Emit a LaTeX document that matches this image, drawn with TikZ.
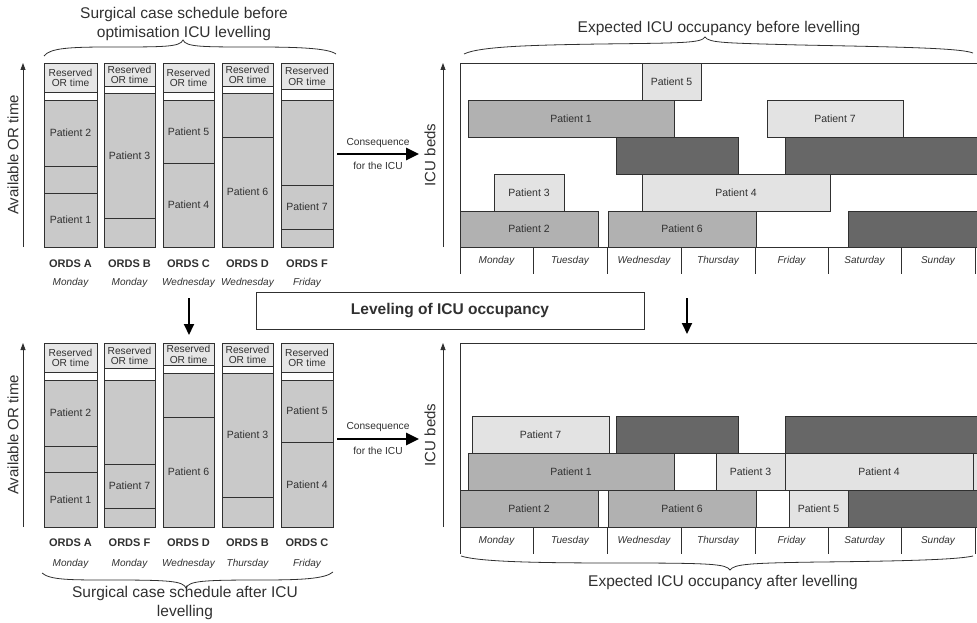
\documentclass[tikz,border=0pt]{standalone}
\usepackage{fontspec}
\setmainfont{Liberation Sans}
\usetikzlibrary{arrows.meta}

\definecolor{ink}{HTML}{303030}
\definecolor{orgray}{HTML}{C9C9C9}
\definecolor{resgray}{HTML}{E6E6E6}
\definecolor{lightbar}{HTML}{E3E3E3}
\definecolor{midbar}{HTML}{B1B1B1}
\definecolor{darkbar}{HTML}{676767}

\tikzset{
  orbox/.style={draw=ink, line width=0.8pt, fill=orgray},
  resbox/.style={draw=ink, line width=0.8pt, fill=resgray},
  gapbox/.style={draw=ink, line width=0.8pt, fill=white},
  lightb/.style={draw=ink, line width=0.8pt, fill=lightbar},
  midb/.style={draw=ink, line width=0.8pt, fill=midbar},
  darkb/.style={draw=ink, line width=0.8pt, fill=darkbar},
  frame/.style={draw=ink, line width=0.8pt},
  patlab/.style={inner sep=0pt, text=ink, font=\fontsize{10.5}{12}\selectfont},
  reslab/.style={inner sep=0pt, align=center, text=ink, font=\fontsize{10.2}{10.6}\selectfont},
  ordslab/.style={inner sep=0pt, text=ink, font=\bfseries\fontsize{11}{13}\selectfont},
  daylab/.style={inner sep=0pt, text=ink, font=\itshape\fontsize{10}{12}\selectfont},
  titlelab/.style={inner sep=0pt, align=center, text=ink, font=\fontsize{15.5}{18.5}\selectfont},
  axislab/.style={inner sep=0pt, rotate=90, text=ink, font=\fontsize{15}{18}\selectfont},
  conslab/.style={inner sep=0pt, text=ink, font=\fontsize{10.2}{12}\selectfont},
  axisarrow/.style={draw=ink, line width=0.8pt, -{Triangle[length=7pt,width=5pt]}},
  bigarrow/.style={draw=black, line width=2.6pt, -{Triangle[length=13pt,width=12pt]}},
  downarrow/.style={draw=black, line width=2pt, -{Triangle[length=11pt,width=10pt]}},
  brace/.style={draw=ink, line width=0.8pt},
}

% one OR day schedule: x-left, x-right, top, reserved bottom, gap bottom, segments
\newcommand\orcol[6]{%
  \draw[resbox] (#1,#3) rectangle (#2,#4);
  \node[reslab] at ({(#1+#2)/2},{(#3+#4)/2+0.5}) {Reserved\\OR time};
  \draw[gapbox] (#1,#4) rectangle (#2,#5);
  \foreach \a/\b/\t in {#6}{%
    \draw[orbox] (#1,\a) rectangle (#2,\b);
    \node[patlab] at ({(#1+#2)/2},{(\a+\b)/2}) {\t};
  }%
}
% one ICU stay: style, x-from, x-to, row top, row bottom, label
\newcommand\icustay[6]{%
  \draw[#1] (#2,#4) rectangle (#3,#5);
  \node[patlab] at ({(#2+#3)/2},{(#4+#5)/2}) {#6};
}
% week axis under an ICU chart at baseline y0
\newcommand\weekaxis[1]{%
  \foreach \xa/\xb/\d in {460/533/Monday,533/607/Tuesday,607/681/Wednesday,
      681/755/Thursday,755/828/Friday,828/901/Saturday,901/975/Sunday}{%
    \draw[frame] (\xa,#1) -- (\xa,#1+27);
    \node[daylab] at ({(\xa+\xb)/2},#1+14) {\d};
  }%
  \draw[frame] (975,#1) -- (975,#1+27);
}

\begin{document}
\begin{tikzpicture}[x=1pt,y=-1pt]
\useasboundingbox (0,0) rectangle (977,623);
\clip (0,0) rectangle (977,623);

% ---------------- upper OR schedule ----------------
\node[titlelab] (ttl1) at (184,24) {Surgical case schedule before\\optimisation ICU levelling};
\draw[brace] (44,56) .. controls (50,48) and (70,47) .. (110,47)
  .. controls (165,47) and (180,47) .. (183,40)
  .. controls (186,47) and (201,47) .. (256,47)
  .. controls (296,47) and (328,48) .. (336,54);

\coordinate (oa1) at (23,247); \coordinate (ob1) at (23,63);
\draw[axisarrow] (oa1) -- (ob1);
\node[axislab] (ax1) at (13,155) {Available OR time};

\orcol{44}{97}{63}{92}{100}{100/166/Patient 2,166/193/{},193/247/Patient 1}
\orcol{104}{155}{63}{86}{93}{93/218/Patient 3,218/247/{}}
\orcol{163}{214}{63}{92}{100}{100/163/Patient 5,163/247/Patient 4}
\orcol{222}{273}{63}{86}{93}{93/137/{},137/247/Patient 6}
\orcol{281}{333}{63}{89}{100}{100/185/{},185/229/Patient 7,229/247/{}}

\foreach \x/\o/\d in {70.5/A/Monday,129.5/B/Monday,188.5/C/Wednesday,247.5/D/Wednesday,307/F/Friday}{
  \node[ordslab] at (\x,264) {ORDS \o};
  \node[daylab] at (\x,283) {\d};
}

% consequence arrow (upper)
\coordinate (ca1) at (337,154); \coordinate (cb1) at (419,154);
\draw[bigarrow] (ca1) -- (cb1);
\node[conslab] (cs1) at (378,143) {Consequence};
\node[conslab] (cf1) at (378,166) {for the ICU};

% ---------------- upper ICU chart ----------------
\node[titlelab] (ttl2) at (719,28) {Expected ICU occupancy before levelling};
\draw[brace] (464,54) .. controls (480,46) and (540,45) .. (600,44)
  .. controls (685,43) and (701,43) .. (705,37)
  .. controls (709,43) and (725,43) .. (800,45)
  .. controls (900,47) and (960,48) .. (973,53);

\coordinate (ia1) at (443,247); \coordinate (ib1) at (443,63);
\draw[axisarrow] (ia1) -- (ib1);
\node[axislab] (bx1) at (430,155) {ICU beds};

\draw[frame] (460,247) -- (460,63) -- (985,63);
\icustay{lightb}{642}{701}{63}{100}{Patient 5}
\icustay{midb}{468}{674}{100}{137}{Patient 1}
\icustay{lightb}{767}{903}{100}{137}{Patient 7}
\icustay{darkb}{616}{738}{137}{174}{}
\icustay{darkb}{785}{990}{137}{174}{}
\icustay{lightb}{494}{564}{174}{211}{Patient 3}
\icustay{lightb}{642}{830}{174}{211}{Patient 4}
\icustay{midb}{460}{598}{211}{247}{Patient 2}
\icustay{midb}{608}{756}{211}{247}{Patient 6}
\icustay{darkb}{848}{990}{211}{247}{}
\draw[frame] (460,247) -- (985,247);
\weekaxis{247}

% ---------------- levelling step ----------------
\node[draw=ink, line width=0.9pt, minimum width=388pt, minimum height=37pt, inner sep=0pt,
      font=\bfseries\fontsize{15.5}{18}\selectfont, text=ink] (lev) at (450,310.5) {Leveling of ICU occupancy};
\coordinate (da1) at (189,298); \coordinate (db1) at (189,335);
\draw[downarrow] (da1) -- (db1);
\coordinate (da2) at (687,298); \coordinate (db2) at (687,334);
\draw[downarrow] (da2) -- (db2);

% ---------------- lower OR schedule ----------------
\coordinate (oa2) at (23,527); \coordinate (ob2) at (23,343);
\draw[axisarrow] (oa2) -- (ob2);
\node[axislab] (ax2) at (13,435) {Available OR time};

\orcol{44}{97}{343}{372}{380}{380/446/Patient 2,446/472/{},472/527/Patient 1}
\orcol{104}{155}{343}{368}{380}{380/464/{},464/508/Patient 7,508/527/{}}
\orcol{163}{214}{343}{365}{373}{373/417/{},417/527/Patient 6}
\orcol{222}{273}{343}{366}{373}{373/497/Patient 3,497/527/{}}
\orcol{281}{333}{343}{372}{380}{380/442/Patient 5,442/527/Patient 4}

\foreach \x/\o/\d in {70.5/A/Monday,129.5/F/Monday,188.5/D/Wednesday,247.5/B/Thursday,307/C/Friday}{
  \node[ordslab] at (\x,543) {ORDS \o};
  \node[daylab] at (\x,564) {\d};
}
\draw[brace] (42,573) .. controls (50,580) and (70,580) .. (110,580)
  .. controls (170,580) and (183,581) .. (186,588)
  .. controls (189,581) and (202,580) .. (260,580)
  .. controls (300,580) and (325,579) .. (333,572);
\node[titlelab] (ttl3) at (185,603) {Surgical case schedule after ICU\\levelling};

% consequence arrow (lower)
\coordinate (ca2) at (337,439); \coordinate (cb2) at (419,439);
\draw[bigarrow] (ca2) -- (cb2);
\node[conslab] (cs2) at (378,427) {Consequence};
\node[conslab] (cf2) at (378,451) {for the ICU};

% ---------------- lower ICU chart ----------------
\coordinate (ia2) at (443,527); \coordinate (ib2) at (443,343);
\draw[axisarrow] (ia2) -- (ib2);
\node[axislab] (bx2) at (430,435) {ICU beds};

\draw[frame] (460,527) -- (460,343) -- (985,343);
\icustay{lightb}{472}{609}{416}{453}{Patient 7}
\icustay{darkb}{616}{738}{416}{453}{}
\icustay{darkb}{785}{990}{416}{453}{}
\icustay{midb}{468}{674}{453}{490}{Patient 1}
\icustay{lightb}{716}{785}{453}{490}{Patient 3}
\icustay{lightb}{785}{973}{453}{490}{Patient 4}
\icustay{lightb}{973}{990}{453}{490}{}
\icustay{midb}{460}{598}{490}{527}{Patient 2}
\icustay{midb}{608}{756}{490}{527}{Patient 6}
\icustay{lightb}{789}{848}{490}{527}{Patient 5}
\icustay{darkb}{848}{990}{490}{527}{}
\draw[frame] (460,527) -- (985,527);
\weekaxis{527}

\draw[brace] (461,556) .. controls (480,562) and (540,563) .. (620,563)
  .. controls (712,563) and (726,564) .. (730,570)
  .. controls (734,564) and (750,563) .. (820,562)
  .. controls (920,561) and (960,559) .. (973,556);
\node[titlelab] (ttl4) at (723,582) {Expected ICU occupancy after levelling};
\end{tikzpicture}
\end{document}
